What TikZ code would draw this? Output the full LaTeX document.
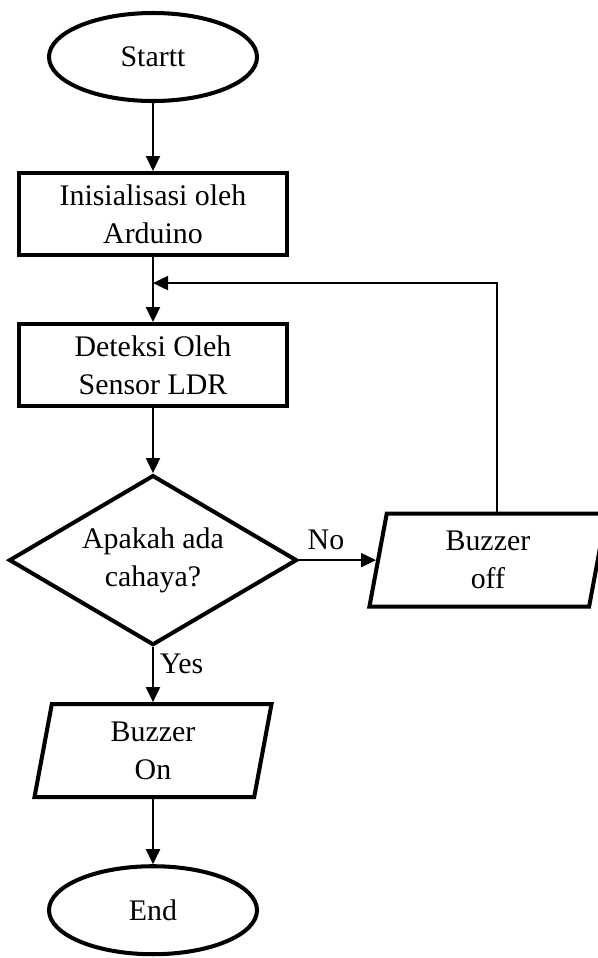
\documentclass[tikz,border=0pt]{standalone}
\usepackage{fontspec}
\setmainfont{Liberation Serif}
\usetikzlibrary{positioning, arrows.meta, calc, shapes.geometric}

\begin{document}
\begin{tikzpicture}[font=\fontsize{17}{21.5}\selectfont,
  term/.style={draw,line width=2.3pt,ellipse,minimum width=4.16cm,minimum height=1.76cm,inner sep=0pt},
  proc/.style={draw,line width=2.3pt,align=center,minimum width=5.36cm,minimum height=1.64cm,inner sep=2pt},
  dec/.style={draw,line width=2.3pt,diamond,aspect=1.72,align=center,minimum width=5.76cm,minimum height=3.40cm,inner sep=0pt},
  io/.style={draw,line width=2.3pt,trapezium,trapezium left angle=75,trapezium right angle=105,trapezium stretches body,align=center,minimum width=4.74cm,minimum height=1.86cm,inner sep=2pt},
  arr/.style={-{Triangle[length=0.3cm,width=0.28cm]},line width=1.1pt},
  lbl/.style={font=\fontsize{17}{21.5}\selectfont}]
  \useasboundingbox (0,0) rectangle (11.94,-19.16);
  \node[term] (st) at (3.06,-1.14) {Startt};
  \node[proc, below=1.36cm of st] (ini) {Inisialisasi oleh\\Arduino};
  \node[proc, below=1.3cm of ini] (det) {Deteksi Oleh\\Sensor LDR};
  \node[dec, below=1.30cm of det] (cek) {Apakah ada\\cahaya?};
  \node[io, right=1.54cm of cek] (boff) {Buzzer\\off};
  \node[io, below=1.10cm of cek] (bon) {Buzzer\\On};
  \node[term, below=1.30cm of bon] (en) {End};
  \coordinate (fb) at ($(ini.south)!0.4!(det.north)$);
  \draw[arr] (st.south) -- (ini.north); \draw[arr] (ini.south) -- (det.north); \draw[arr] (det.south) -- (cek.north);
  \draw[arr] (cek.east) -- node[lbl, above=2pt, pos=0.35] {No} (boff.west);
  \draw[arr] (cek.south) -- node[lbl, right, pos=0.3] {Yes} (bon.north);
  \draw[arr] (bon.south) -- (en.north);
  \draw[arr] ($(boff.north)+(0.18,0)$) |- (fb);
\end{tikzpicture}
\end{document}
